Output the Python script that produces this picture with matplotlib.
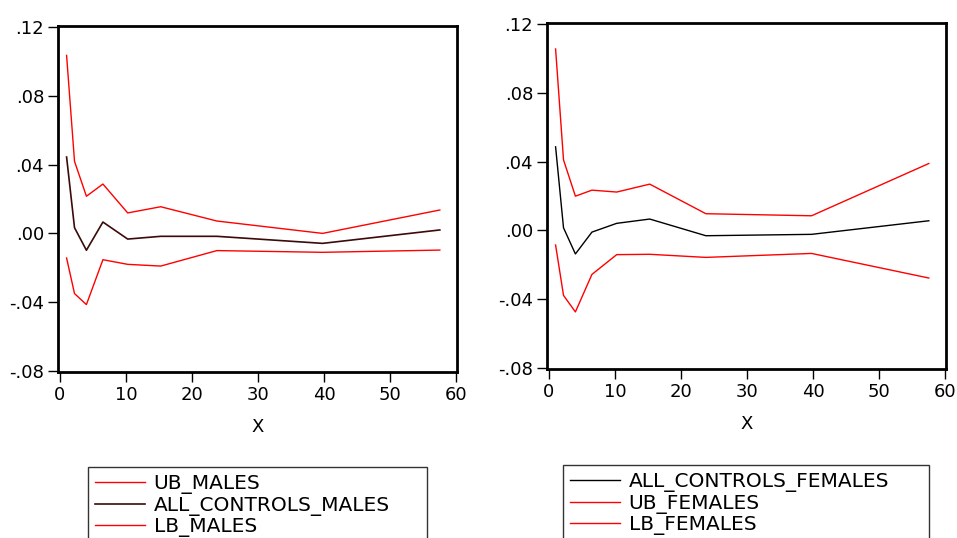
import matplotlib
matplotlib.use("Agg")
import matplotlib.pyplot as plt

plt.rcParams['font.family'] = ['DejaVu Sans']

# horizon values (same for both panels)
x = [1, 2.2, 4, 6.5, 10.25, 15.25, 23.75, 39.75, 57.5]

# males
ub_males = [0.1035, 0.0419, 0.0216, 0.0287, 0.0119, 0.0155, 0.0072, 0.0000, 0.0136]
all_males = [0.0444, 0.0033, -0.0098, 0.0066, -0.0033, -0.0017, -0.0017, -0.0058, 0.0020]
lb_males = [-0.0143, -0.0350, -0.0414, -0.0153, -0.0180, -0.0190, -0.0100, -0.0110, -0.0097]

# females
all_females = [0.0486, 0.0015, -0.0137, -0.0010, 0.0041, 0.0066, -0.0031, -0.0023, 0.0056]
ub_females = [0.1055, 0.0410, 0.0199, 0.0234, 0.0223, 0.0269, 0.0097, 0.0085, 0.0389]
lb_females = [-0.0085, -0.0378, -0.0474, -0.0256, -0.0141, -0.0139, -0.0157, -0.0134, -0.0277]

yticks = [-0.08, -0.04, 0.00, 0.04, 0.08, 0.12]
ytick_labels = ['-.08', '-.04', '.00', '.04', '.08', '.12']
xticks = [0, 10, 20, 30, 40, 50, 60]

RED = '#ff0000'
MAROON = '#3c0a0a'

fig = plt.figure(figsize=(9.57, 5.38), dpi=100)
W, H = 957, 538


def px_axes(l, t, r, b):
    return fig.add_axes([l / W, 1 - b / H, (r - l) / W, (b - t) / H])


def style(ax):
    ax.set_xlim(-0.3, 60.1)
    ax.set_ylim(-0.0806, 0.1206)
    ax.set_yticks(yticks)
    ax.set_yticklabels(ytick_labels)
    ax.set_xticks(xticks)
    ax.tick_params(direction='out', length=7, width=1, labelsize=13, pad=3)
    for s in ax.spines.values():
        s.set_linewidth(2)
    ax.set_xlabel('X', fontsize=13, labelpad=10.5)


ax1 = px_axes(58, 26, 457, 372)
ax1.plot(x, ub_males, color=RED, lw=1, label='UB_MALES')
ax1.plot(x, all_males, color=MAROON, lw=1.2, label='ALL_CONTROLS_MALES')
ax1.plot(x, lb_males, color=RED, lw=1, label='LB_MALES')
style(ax1)

ax2 = px_axes(547, 23, 946, 369)
ax2.plot(x, all_females, color='black', lw=1, label='ALL_CONTROLS_FEMALES')
ax2.plot(x, ub_females, color=RED, lw=1, label='UB_FEMALES')
ax2.plot(x, lb_females, color=RED, lw=1, label='LB_FEMALES')
style(ax2)

leg_kw = dict(loc='upper left', fontsize=14.5, frameon=True, fancybox=False,
              edgecolor='black', handlelength=2.45, handletextpad=0.45,
              labelspacing=0.08, borderpad=0.36, borderaxespad=0, mode='expand')


def add_legend(ax, l, t, r):
    leg = fig.legend(handles=ax.get_lines(),
                     bbox_to_anchor=(l / W, 1 - t / H - 0.2, (r - l) / W, 0.2),
                     **leg_kw)
    leg.get_frame().set_linewidth(1)
    return leg


add_legend(ax1, 88, 467, 427)
add_legend(ax2, 563, 465, 929)

fig.savefig('out.png', dpi=100)
